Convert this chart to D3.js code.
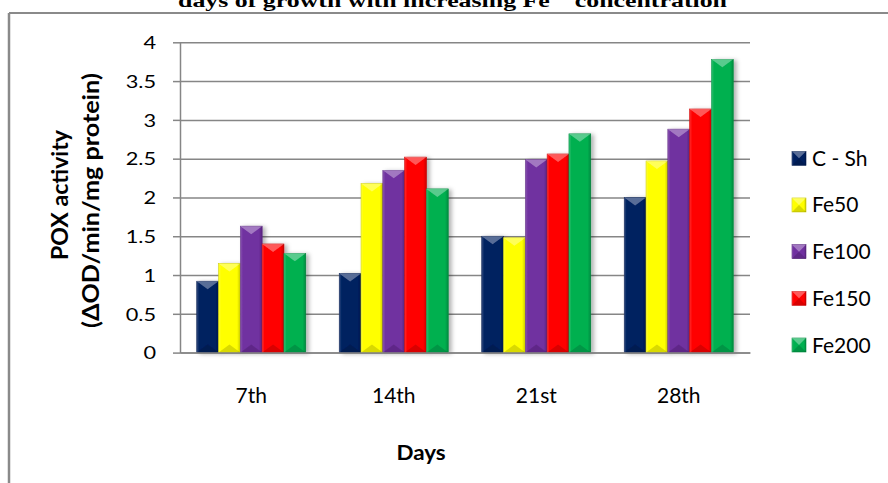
<!DOCTYPE html>
<html>
<head>
<meta charset="utf-8">
<script src="https://cdn.jsdelivr.net/npm/d3@7"></script>
<style>
  html, body { margin: 0; padding: 0; background: #fff; }
  svg { display: block; }
</style>
</head>
<body>
<svg id="chart" width="888" height="483"></svg>
<script>
// POX activity per sampling day for each Fe treatment
const days = ["7th", "14th", "21st", "28th"];
const series = ["C - Sh", "Fe50", "Fe100", "Fe150", "Fe200"];
const cSh   = [0.92, 1.02, 1.50, 2.00];
const fe50  = [1.15, 2.18, 1.48, 2.47];
const fe100 = [1.63, 2.35, 2.49, 2.88];
const fe150 = [1.40, 2.52, 2.56, 3.14];
const fe200 = [1.28, 2.11, 2.82, 3.78];
const yTicks = [0, 0.5, 1, 1.5, 2, 2.5, 3, 3.5, 4];
const colors = ["#002060", "#FFFF00", "#7030A0", "#FF0000", "#00B050"];

const values = [cSh, fe50, fe100, fe150, fe200];
const rows = days.map((d, i) => ({
  day: d,
  vals: series.map((s, j) => ({ key: s, value: values[j][i], color: colors[j] }))
}));

const svg = d3.select("#chart");
const font = "Lato, 'Open Sans', sans-serif";

// chart frame
svg.append("line").attr("x1", 9).attr("x2", 888).attr("y1", 13).attr("y2", 13)
  .attr("stroke", "#8a8a8a").attr("stroke-width", 2);
svg.append("line").attr("x1", 9).attr("x2", 9).attr("y1", 13).attr("y2", 483)
  .attr("stroke", "#8a8a8a").attr("stroke-width", 2.5);

// title (runs off the top edge)
const title = svg.append("text")
  .attr("x", 178).attr("y", 6.5)
  .attr("font-family", "'Liberation Serif', 'Times New Roman', serif")
  .attr("font-weight", "bold").attr("font-size", 18)
  .attr("textLength", 549).attr("lengthAdjust", "spacingAndGlyphs")
  .attr("fill", "#000");
title.append("tspan").text("days of growth with increasing Fe");
title.append("tspan").attr("dy", -8).attr("font-size", 12).text("2+");
title.append("tspan").attr("dy", 8).text(" concentration");

const plot = { left: 180, right: 750, top: 42.3, bottom: 352.6 };

const x0 = d3.scaleBand().domain(days).range([plot.left, plot.right])
  .paddingInner(0.235).paddingOuter(0.1175);
const x1 = d3.scaleBand().domain(series).range([0, x0.bandwidth()]);
const y = d3.scaleLinear().domain([0, 4]).range([plot.bottom, plot.top]);

// defs: shadow + side shading
const defs = svg.append("defs");
const f = defs.append("filter").attr("id", "shadow")
  .attr("x", "-30%").attr("y", "-10%").attr("width", "170%").attr("height", "120%");
f.append("feDropShadow").attr("dx", 3).attr("dy", 1).attr("stdDeviation", 2)
  .attr("flood-color", "#000").attr("flood-opacity", 0.3);
const g = defs.append("linearGradient").attr("id", "side").attr("x1", 0).attr("x2", 1).attr("y1", 0).attr("y2", 0);
g.append("stop").attr("offset", 0).attr("stop-color", "#fff").attr("stop-opacity", 0.18);
g.append("stop").attr("offset", 0.12).attr("stop-color", "#fff").attr("stop-opacity", 0);
g.append("stop").attr("offset", 0.85).attr("stop-color", "#000").attr("stop-opacity", 0);
g.append("stop").attr("offset", 1).attr("stop-color", "#000").attr("stop-opacity", 0.2);

// gridlines
svg.append("g").attr("transform", `translate(${plot.left},0)`)
  .call(d3.axisLeft(y).tickValues(yTicks).tickSize(-(plot.right - plot.left)).tickFormat(""))
  .call(s => s.select(".domain").remove())
  .call(s => s.selectAll("line").attr("stroke", "#868686").attr("stroke-width", 1.5));

// y axis
const yAxis = svg.append("g").attr("transform", `translate(${plot.left},0)`)
  .call(d3.axisLeft(y).tickValues(yTicks).tickSize(7).tickSizeOuter(0).tickPadding(17)
    .tickFormat(d3.format("")));
yAxis.select(".domain").attr("stroke", "#868686").attr("stroke-width", 1.5);
yAxis.selectAll("line").attr("stroke", "#868686").attr("stroke-width", 1.5);
yAxis.selectAll("text")
  .attr("font-family", font).attr("font-size", 17).attr("fill", "#000")
  .attr("x", -24 / 1.28).attr("dy", "0.37em")
  .attr("transform", "scale(1.28,1)");

// bars
function bevelBar(sel, w, h, color, tri) {
  sel.append("rect").attr("width", w).attr("height", h).attr("fill", color)
    .attr("stroke", d3.color(color).darker(0.6)).attr("stroke-width", 0.6);
  sel.append("rect").attr("width", w).attr("height", h).attr("fill", "url(#side)");
  const t = Math.min(tri, h / 2);
  sel.append("path").attr("d", `M0,0 L${w},0 L${w / 2},${t} Z`)
    .attr("fill", "#fff").attr("fill-opacity", 0.35);
  sel.append("path").attr("d", `M0,${h} L${w},${h} L${w / 2},${h - t} Z`)
    .attr("fill", "#000").attr("fill-opacity", 0.15);
}

const groups = svg.append("g").selectAll("g").data(rows).join("g")
  .attr("transform", d => `translate(${x0(d.day)},0)`);
groups.selectAll("g").data(d => d.vals).join("g")
  .attr("transform", d => `translate(${x1(d.key)},${y(d.value)})`)
  .attr("filter", "url(#shadow)")
  .each(function (d) {
    bevelBar(d3.select(this), x1.bandwidth(), y(0) - y(d.value), d.color, 8);
  });

// x axis
const xAxis = svg.append("g").attr("transform", `translate(0,${plot.bottom})`)
  .call(d3.axisBottom(x0).tickSize(0).tickSizeOuter(0));
xAxis.select(".domain").attr("stroke", "#868686").attr("stroke-width", 1.5);
xAxis.selectAll("text")
  .attr("font-family", font).attr("font-size", 21).attr("fill", "#000")
  .attr("y", 50.5).attr("dy", 0);

// axis titles
svg.append("text")
  .attr("transform", "translate(421,460) scale(1.12,1)")
  .attr("text-anchor", "middle")
  .attr("font-family", font).attr("font-weight", "bold").attr("font-size", 20)
  .text("Days");

svg.append("text")
  .attr("transform", "translate(67.5,195) rotate(-90)")
  .attr("text-anchor", "middle")
  .attr("font-family", font).attr("font-weight", "bold").attr("font-size", 23)
  .attr("textLength", 130).attr("lengthAdjust", "spacingAndGlyphs")
  .text("POX activity");
svg.append("text")
  .attr("transform", "translate(99,200.5) rotate(-90)")
  .attr("text-anchor", "middle")
  .attr("font-family", font).attr("font-weight", "bold").attr("font-size", 23)
  .attr("textLength", 255).attr("lengthAdjust", "spacingAndGlyphs")
  .text("(ΔOD/min/mg protein)");

// legend
const legendY = d3.scalePoint().domain(series).range([158.3, 345]);
const leg = svg.append("g").selectAll("g").data(series).join("g")
  .attr("transform", d => `translate(792,${legendY(d)})`);
leg.append("g").attr("transform", "translate(0,-7)")
  .each(function (d, i) { bevelBar(d3.select(this), 14, 14, colors[i], 7); });
leg.append("text")
  .attr("x", 20).attr("y", 7.5)
  .attr("font-family", font).attr("font-size", 21).attr("fill", "#000")
  .text(d => d);
</script>
</body>
</html>
